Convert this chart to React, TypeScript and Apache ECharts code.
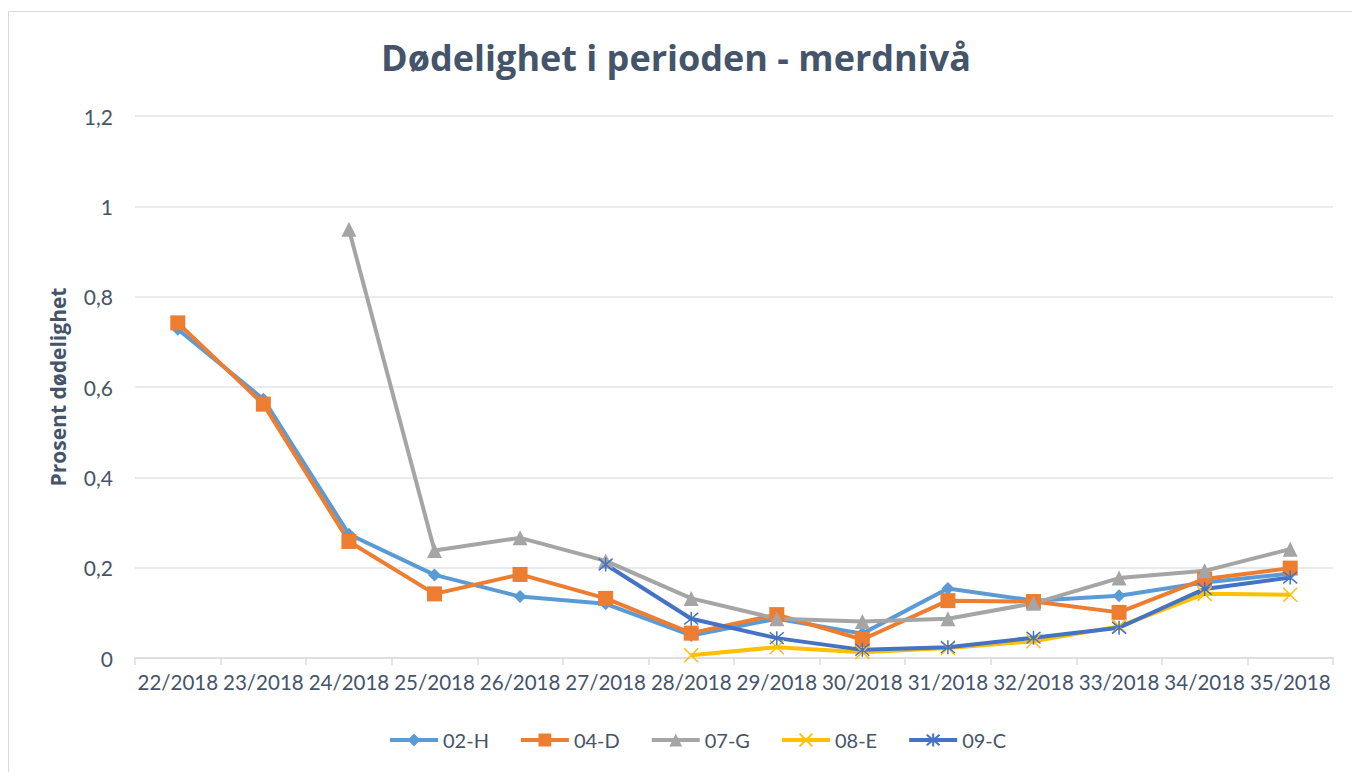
import React, { useEffect, useRef } from "react";
import * as echarts from "echarts";

const categories = ["22/2018", "23/2018", "24/2018", "25/2018", "26/2018", "27/2018", "28/2018", "29/2018", "30/2018", "31/2018", "32/2018", "33/2018", "34/2018", "35/2018"];
const s02H = [0.728, 0.573, 0.274, 0.184, 0.136, 0.12, 0.05, 0.087, 0.054, 0.154, 0.127, 0.138, 0.167, 0.187];
const s04D = [0.742, 0.562, 0.258, 0.142, 0.185, 0.132, 0.055, 0.096, 0.041, 0.127, 0.125, 0.101, 0.175, 0.199];
const s07G = [null, null, 0.949, 0.238, 0.266, 0.215, 0.132, 0.087, 0.081, 0.087, 0.121, 0.177, 0.193, 0.241];
const s08E = [null, null, null, null, null, null, 0.006, 0.024, 0.013, 0.022, 0.037, 0.07, 0.142, 0.14];
const s09C = [null, null, null, null, null, 0.207, 0.087, 0.044, 0.018, 0.024, 0.045, 0.067, 0.153, 0.178];
const yTicks = [0, 0.2, 0.4, 0.6, 0.8, 1, 1.2];

const FONT = "Lato";
const BOLD = "Open Sans";
const TEXT = "#44546A";

export default function App() {
  const ref = useRef<HTMLDivElement>(null);
  useEffect(() => {
    const chart = echarts.init(ref.current!, null, { renderer: "svg" });
    const mk = (name: string, data: any[], color: string, symbol: string, size: number, stroke = false) => ({
      name,
      type: "line",
      data,
      symbol,
      symbolSize: size,
      showAllSymbol: true,
      lineStyle: { color, width: 4 },
      itemStyle: stroke
        ? { color: "rgba(0,0,0,0)", borderColor: color, borderWidth: 1.5 }
        : { color, borderColor: color, borderWidth: 0 },
      emphasis: { disabled: true },
    });
    chart.setOption({
      animation: false,
      backgroundColor: "#fff",
      title: {
        text: "Dødelighet i perioden - merdnivå",
        left: "center",
        top: 34,
        textStyle: { fontFamily: BOLD, fontSize: 36, fontWeight: "bold", color: TEXT },
      },
      graphic: [
        {
          type: "rect",
          shape: { x: 8.5, y: 11.5, width: 1400, height: 800 },
          style: { fill: "none", stroke: "#d9d9d9", lineWidth: 1 },
          silent: true,
        },
      ],
      legend: {
        bottom: 17,
        left: 383,
        itemWidth: 48,
        itemHeight: 16,
        itemGap: 30,
        lineStyle: { width: 4 },
        textStyle: { fontFamily: FONT, fontSize: 20, color: TEXT },
        data: ["02-H", "04-D", "07-G", "08-E", "09-C"],
      },
      grid: { left: 135, right: 19, top: 116, bottom: 114, containLabel: false },
      xAxis: {
        type: "category",
        data: categories,
        boundaryGap: true,
        axisLine: { lineStyle: { color: "#d9dde3", width: 1.5 } },
        axisTick: { show: true, length: 7, lineStyle: { color: "#d9dde3", width: 1.5 } },
        axisLabel: { fontFamily: FONT, fontSize: 20.5, color: TEXT, margin: 13, interval: 0 },
      },
      yAxis: {
        type: "value",
        min: 0,
        max: 1.2,
        interval: 0.2,
        name: "Prosent dødelighet",
        nameLocation: "middle",
        nameGap: 67,
        nameTextStyle: { fontFamily: BOLD, fontSize: 21, fontWeight: "bold", color: TEXT },
        axisLine: { show: false },
        axisTick: { show: false },
        splitLine: { lineStyle: { color: "#dfe3e8", width: 1.5 } },
        axisLabel: {
          fontFamily: FONT,
          fontSize: 21,
          color: TEXT,
          margin: 22,
          formatter: (v: number) => {
            const t = yTicks.find((x) => Math.abs(x - v) < 1e-9);
            return t === undefined ? "" : String(Math.round(t * 10) / 10).replace(".", ",");
          },
        },
      },
      series: [
        mk("02-H", s02H, "#5B9BD5", "diamond", 13),
        mk("04-D", s04D, "#ED7D31", "rect", 15),
        mk("07-G", s07G, "#A5A5A5", "triangle", 15),
        mk("08-E", s08E, "#FFC000", "path://M0,0L10,10M10,0L0,10", 14, true),
        mk("09-C", s09C, "#4472C4", "path://M0,0L10,10M10,0L0,10M5,-1L5,11", 14, true),
      ],
    });
    return () => chart.dispose();
  }, []);
  return (
    <div style={{ position: "fixed", left: 0, top: 0, width: 1352, height: 772, background: "#fff" }}>
      <div ref={ref} style={{ width: 1352, height: 772 }} />
    </div>
  );
}
